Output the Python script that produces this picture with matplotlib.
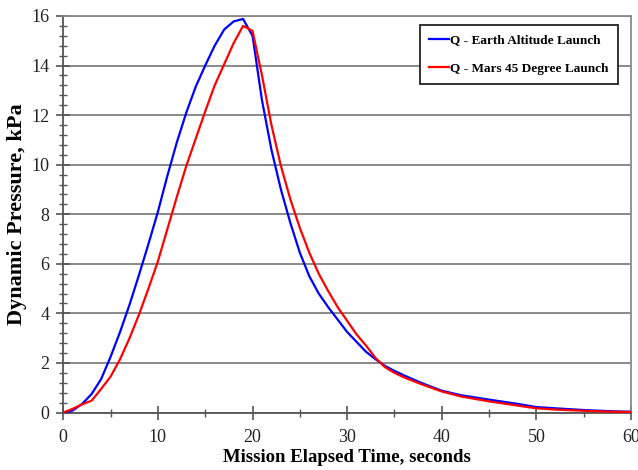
import numpy as np
import matplotlib
matplotlib.use("Agg")
import matplotlib.pyplot as plt
from matplotlib.ticker import MultipleLocator

plt.rcParams['font.family'] = ['Liberation Serif', 'DejaVu Serif']

# Q - Earth Altitude Launch
earth_t = [0, 1, 2, 3, 4, 5, 6, 7, 8, 9, 10, 11, 12, 13, 14, 15, 16, 17, 18, 19,
           20, 21, 22, 23, 24, 25, 26, 27, 28, 29, 30, 31, 32, 33, 34, 35, 36, 38,
           40, 42, 45, 48, 50, 52, 55, 58, 60]
earth_q = [0.0, 0.08, 0.35, 0.75, 1.35, 2.25, 3.25, 4.35, 5.55, 6.8, 8.1, 9.55, 10.9,
           12.1, 13.15, 14.0, 14.8, 15.45, 15.78, 15.88,
           15.2, 12.6, 10.6, 9.0, 7.65, 6.45, 5.5, 4.8, 4.25, 3.75, 3.25, 2.85, 2.45,
           2.15, 1.88, 1.68, 1.5, 1.17, 0.88, 0.7, 0.52, 0.35, 0.22, 0.17, 0.1, 0.05, 0.03]

# Q - Mars 45 Degree Launch
mars_t = [0, 1, 2, 3, 4, 5, 6, 7, 8, 9, 10, 11, 12, 13, 14, 15, 16, 17, 18, 19,
          20, 21, 22, 23, 24, 25, 26, 27, 28, 29, 30, 31, 32, 33, 34, 35, 36, 38,
          40, 42, 45, 48, 50, 52, 55, 58, 60]
mars_q = [0.0, 0.15, 0.33, 0.48, 0.95, 1.45, 2.15, 3.0, 3.95, 5.0, 6.1, 7.4, 8.7,
          9.95, 11.05, 12.15, 13.2, 14.05, 14.9, 15.6,
          15.4, 13.6, 11.6, 9.95, 8.6, 7.45, 6.45, 5.6, 4.9, 4.25, 3.7, 3.15, 2.7,
          2.2, 1.83, 1.6, 1.42, 1.12, 0.85, 0.65, 0.45, 0.28, 0.17, 0.12, 0.07, 0.03, 0.02]

fig = plt.figure(figsize=(6.38, 4.70), dpi=100)
ax = fig.add_axes([0.0992, 0.1223, 0.8898, 0.8437])

ax.plot(earth_t, earth_q, color='#0000ff', lw=1.6, label='Q - Earth Altitude Launch', zorder=3)
ax.plot(mars_t, mars_q, color='#ff0000', lw=1.6, label='Q - Mars 45 Degree Launch', zorder=3)

ax.set_xlim(0, 60)
ax.set_ylim(0, 16)
ax.xaxis.set_major_locator(MultipleLocator(10))
ax.xaxis.set_minor_locator(MultipleLocator(5))
ax.yaxis.set_major_locator(MultipleLocator(2))
ax.yaxis.set_minor_locator(MultipleLocator(0.4))

ax.grid(axis='y', which='major', color='#808080', lw=1.3)
ax.set_axisbelow(True)

for s in ['left', 'bottom']:
    ax.spines[s].set_color('#555555')
    ax.spines[s].set_linewidth(1.3)
for s in ['top', 'right']:
    ax.spines[s].set_color('#8a8a8a')
    ax.spines[s].set_linewidth(1.3)

ax.tick_params(which='major', direction='inout', length=10, width=1.2, color='#555555',
               labelsize=13, labelcolor='#222222')
ax.tick_params(which='minor', direction='inout', length=6, width=1.0, color='#555555')
ax.tick_params(axis='x', which='major', pad=7)
ax.tick_params(axis='y', which='major', pad=5)

ax.set_xlabel('Mission Elapsed Time, seconds', fontsize=13.5, fontweight='bold', labelpad=2)
ax.set_ylabel('Dynamic Pressure, kPa', fontsize=16, fontweight='bold', labelpad=3)

leg = ax.legend(loc='upper right', bbox_to_anchor=(0.977, 0.977), borderaxespad=0,
                fancybox=False, framealpha=1, edgecolor='#222222', handlelength=1.5,
                handletextpad=0.1, borderpad=0.7, labelspacing=1.2,
                prop={'weight': 'bold', 'size': 9.5})
leg.get_frame().set_linewidth(1.3)

fig.savefig('out.png', dpi=100)
